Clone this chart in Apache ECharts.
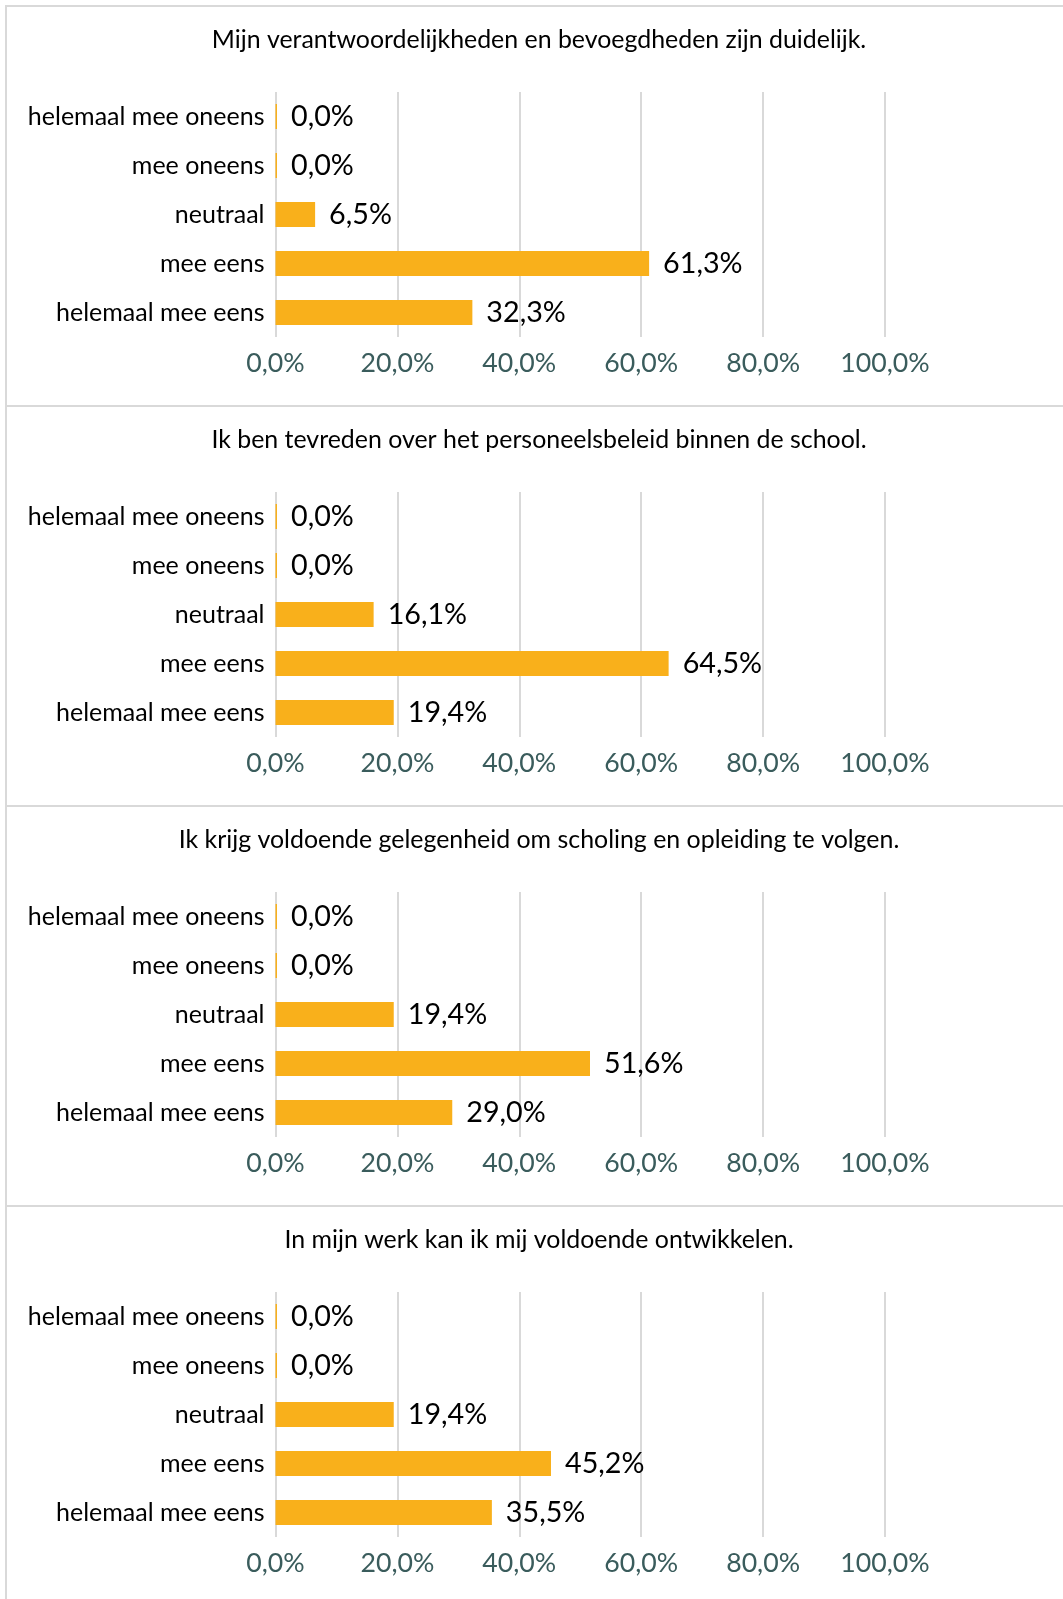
<!DOCTYPE html>
<html>
<head>
<meta charset="utf-8">
<script src="https://cdn.jsdelivr.net/npm/echarts@6/dist/echarts.min.js"></script>
<style>
html,body{margin:0;padding:0;background:#fff;}
#chart{width:1063px;height:1599px;}
</style>
</head>
<body>
<div id="chart"></div>
<script>
const categories = ['helemaal mee oneens', 'mee oneens', 'neutraal', 'mee eens', 'helemaal mee eens'];
const titles = [
  'Mijn verantwoordelijkheden en bevoegdheden zijn duidelijk.',
  'Ik ben tevreden over het personeelsbeleid binnen de school.',
  'Ik krijg voldoende gelegenheid om scholing en opleiding te volgen.',
  'In mijn werk kan ik mij voldoende ontwikkelen.'
];
const values1 = [0.0, 0.0, 6.5, 61.3, 32.3];
const values2 = [0.0, 0.0, 16.1, 64.5, 19.4];
const values3 = [0.0, 0.0, 19.4, 51.6, 29.0];
const values4 = [0.0, 0.0, 19.4, 45.2, 35.5];
const xTicks = [0, 20, 40, 60, 80, 100];

const seriesValues = [values1, values2, values3, values4];
const FONT = 'Lato';

// fit font size so that ink width matches the reference
const cv = document.createElement('canvas').getContext('2d');
function fit(text, target) {
  cv.font = '100px ' + FONT;
  const m = cv.measureText(text);
  const w = (m.actualBoundingBoxLeft || 0) + (m.actualBoundingBoxRight || m.width);
  return Math.round(100 * target / w * 10) / 10;
}
const titleSize = fit(titles[0], 651);
const catSize = fit(categories[0], 234);
const axisSize = fit('100,0%', 86);
const dataSize = fit('32,3%', 77);

const pct = v => v.toFixed(1).replace('.', ',') + '%';

const PANEL_H = 400, TOP0 = 6;
const GRID_LEFT = 275.5, GRID_W = 609.5, GRID_TOP = 86, GRID_H = 245;

const grid = [], xAxis = [], yAxis = [], series = [], title = [];
seriesValues.forEach((vals, k) => {
  const T = TOP0 + PANEL_H * k;
  grid.push({left: GRID_LEFT, width: GRID_W, top: T + GRID_TOP, height: GRID_H});
  title.push({
    text: titles[k], left: 539, top: T + 34 - titleSize * 0.6, textAlign: 'center', padding: 0,
    textStyle: {fontFamily: FONT, fontWeight: 'normal', fontSize: titleSize, color: '#000', lineHeight: titleSize * 1.2}
  });
  xAxis.push({
    type: 'value', gridIndex: k, min: xTicks[0], max: xTicks[xTicks.length - 1], interval: xTicks[1] - xTicks[0],
    axisLine: {show: false}, axisTick: {show: false},
    splitLine: {show: true, lineStyle: {color: '#D9D9D9', width: 2}},
    axisLabel: {formatter: v => pct(v), fontFamily: FONT, fontSize: axisSize, color: '#3A5C5C', margin: 26 - axisSize * 0.6, lineHeight: axisSize * 1.2}
  });
  yAxis.push({
    type: 'category', gridIndex: k, data: categories, inverse: true,
    axisLine: {show: false}, axisTick: {show: false}, splitLine: {show: false},
    axisLabel: {fontFamily: FONT, fontSize: catSize, color: '#000', margin: 11}
  });
  series.push({
    type: 'bar', xAxisIndex: k, yAxisIndex: k, data: vals, barWidth: 25, barMinHeight: 1.5,
    itemStyle: {color: '#F9B01B'},
    label: {show: true, position: 'right', distance: 14, formatter: p => pct(p.value), fontFamily: FONT, fontSize: dataSize, color: '#000'}
  });
});

const graphic = [{
  type: 'rect', shape: {x: 6, y: 6, width: 1080, height: 1620},
  style: {fill: 'none', stroke: '#D9D9D9', lineWidth: 2}, silent: true
}];
[1, 2, 3].forEach(k => {
  graphic.push({
    type: 'line', shape: {x1: 6, y1: TOP0 + PANEL_H * k, x2: 1090, y2: TOP0 + PANEL_H * k},
    style: {stroke: '#D9D9D9', lineWidth: 2}, silent: true
  });
});

const chart = echarts.init(document.getElementById('chart'), null, {renderer: 'canvas'});
chart.setOption({animation: false, backgroundColor: '#fff', title, grid, xAxis, yAxis, series, graphic});
</script>
</body>
</html>
